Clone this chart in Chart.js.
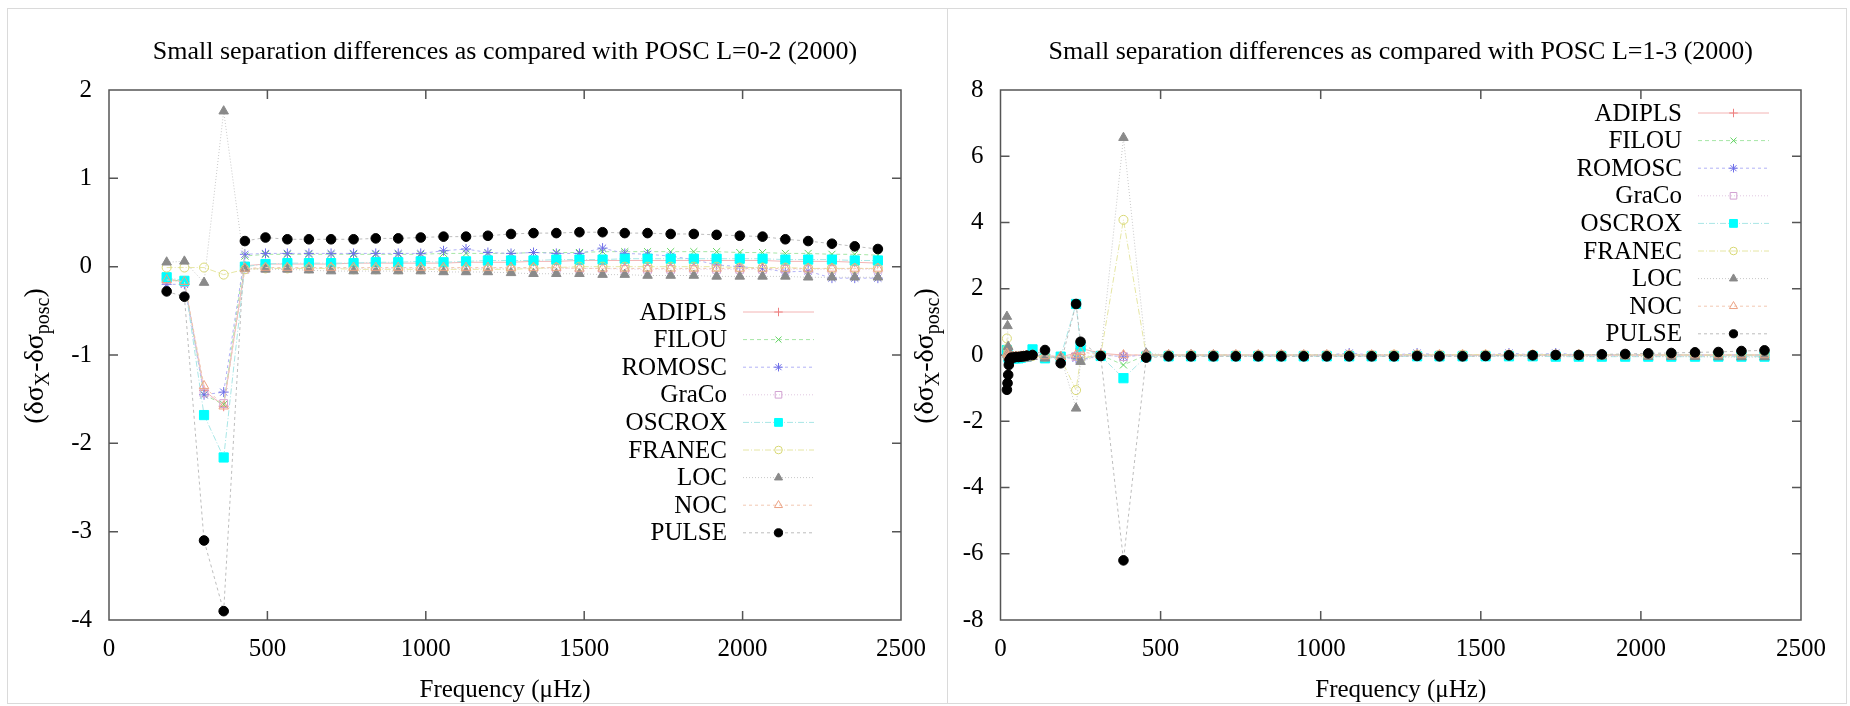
<!DOCTYPE html>
<html>
<head>
<meta charset="utf-8">
<title>Small separation differences</title>
<script src="https://cdn.jsdelivr.net/npm/chart.js@4.4.1/dist/chart.umd.min.js"></script>
<style>
  html, body { margin: 0; padding: 0; background: #fff; }
  #page { position: relative; width: 1850px; height: 706px; overflow: hidden; }
  .edge { position: absolute; background: #dadada; }
  #leftBox { position: absolute; left: 0; top: 0; }
  #rightBox { position: absolute; left: 880px; top: 0; }
</style>
</head>
<body>
<div id="page">
  <div class="edge" style="left:7px;top:8px;width:1839px;height:1px"></div>
  <div class="edge" style="left:7px;top:703px;width:1839px;height:1px"></div>
  <div class="edge" style="left:7px;top:8px;width:1px;height:696px"></div>
  <div class="edge" style="left:1846px;top:8px;width:1px;height:696px"></div>
  <div class="edge" style="left:947px;top:8px;width:1px;height:696px"></div>
  <div id="leftBox"><canvas id="leftChart" width="925" height="706"></canvas></div>
  <div id="rightBox"><canvas id="rightChart" width="970" height="706"></canvas></div>
</div>
<script>
// ---- data ----
const seriesNames = ["ADIPLS", "FILOU", "ROMOSC", "GraCo", "OSCROX", "FRANEC", "LOC", "NOC", "PULSE"];

const xTicks = [0, 500, 1000, 1500, 2000, 2500];
const leftYTicks = [-4, -3, -2, -1, 0, 1, 2];
const rightYTicks = [-8, -6, -4, -2, 0, 2, 4, 6, 8];

// L=0-2 panel
const leftFreq = [182, 238, 300, 362, 429, 494, 563, 631, 701, 772, 842, 913, 984, 1056, 1127, 1196, 1269,
  1340, 1412, 1485, 1558, 1628, 1700, 1773, 1846, 1918, 1991, 2063, 2135, 2207, 2282, 2354, 2427];
const leftADIPLS = [-0.14, -0.17, -1.40, -1.58, 0.01, 0.03, 0.03, 0.03, 0.03, 0.04, 0.04, 0.04, 0.04, 0.04, 0.05, 0.05, 0.05,
  0.06, 0.06, 0.07, 0.07, 0.07, 0.07, 0.07, 0.07, 0.07, 0.07, 0.07, 0.06, 0.06, 0.06, 0.05, 0.04];
const leftFILOU = [-0.14, -0.17, -1.45, -1.56, 0.12, 0.14, 0.14, 0.14, 0.14, 0.14, 0.14, 0.14, 0.14, 0.15, 0.15, 0.15, 0.15,
  0.16, 0.16, 0.16, 0.17, 0.17, 0.17, 0.17, 0.17, 0.17, 0.16, 0.16, 0.15, 0.15, 0.14, 0.14, 0.13];
const leftROMOSC = [-0.20, -0.20, -1.45, -1.42, 0.14, 0.15, 0.15, 0.15, 0.15, 0.15, 0.15, 0.15, 0.15, 0.18, 0.20, 0.16, 0.15,
  0.16, 0.15, 0.15, 0.21, 0.15, 0.14, 0.12, 0.08, 0.02, 0.00, -0.02, -0.06, -0.05, -0.13, -0.13, -0.13];
const leftGraCo = [-0.15, -0.18, -1.43, -1.55, -0.03, -0.02, -0.02, -0.02, -0.02, -0.02, -0.02, -0.02, -0.02, -0.02, -0.02, -0.02, -0.02,
  -0.02, -0.02, -0.02, -0.02, -0.03, -0.03, -0.03, -0.03, -0.03, -0.03, -0.03, -0.03, -0.03, -0.03, -0.03, -0.03];
const leftOSCROX = [-0.12, -0.16, -1.68, -2.16, 0.00, 0.03, 0.04, 0.04, 0.04, 0.04, 0.05, 0.05, 0.06, 0.05, 0.06, 0.07, 0.07,
  0.07, 0.08, 0.08, 0.08, 0.09, 0.09, 0.09, 0.09, 0.09, 0.09, 0.09, 0.08, 0.08, 0.08, 0.07, 0.07];
const leftFRANEC = [-0.01, -0.01, -0.01, -0.09, -0.03, -0.02, -0.02, -0.02, -0.02, -0.03, -0.03, -0.03, -0.03, -0.03, -0.03, -0.03, -0.03,
  -0.02, -0.01, 0.00, 0.00, 0.00, 0.00, 0.00, 0.00, 0.00, -0.01, -0.01, -0.01, -0.02, -0.02, -0.02, -0.02];
const leftLOC = [0.05, 0.06, -0.18, 1.76, -0.02, -0.03, -0.03, -0.04, -0.05, -0.05, -0.05, -0.05, -0.05, -0.06, -0.06, -0.06, -0.07,
  -0.08, -0.08, -0.08, -0.09, -0.09, -0.10, -0.10, -0.10, -0.11, -0.11, -0.11, -0.11, -0.12, -0.12, -0.12, -0.12];
const leftNOC = [-0.15, -0.17, -1.35, -1.58, -0.02, -0.01, -0.01, -0.01, -0.01, -0.01, -0.01, -0.01, -0.01, -0.01, -0.01, -0.01, -0.01,
  -0.01, -0.01, -0.02, -0.02, -0.02, -0.02, -0.02, -0.02, -0.02, -0.02, -0.02, -0.02, -0.02, -0.02, -0.02, -0.02];
const leftPULSE = [-0.28, -0.34, -3.10, -3.90, 0.29, 0.33, 0.31, 0.31, 0.31, 0.31, 0.32, 0.32, 0.33, 0.34, 0.34, 0.35, 0.37,
  0.38, 0.38, 0.39, 0.39, 0.38, 0.38, 0.37, 0.37, 0.36, 0.35, 0.34, 0.31, 0.29, 0.26, 0.23, 0.20];

// L=1-3 panel
const rightFreq = [20, 22, 24, 26, 28, 33, 40, 48, 56, 64, 72, 82, 100, 139, 188, 236, 250, 313, 384, 455,
  525, 595, 665, 735, 805, 877, 947, 1019, 1089, 1159, 1229, 1301, 1371, 1443, 1515, 1588, 1662, 1734,
  1806, 1878, 1951, 2023, 2095, 2169, 2242, 2314, 2386];
const rightADIPLS = [0.05, 0.00, -0.05, -0.08, -0.08, -0.06, -0.06, -0.05, -0.05, -0.04, -0.03, -0.02, 0.00, -0.02, -0.05, 0.05, 0.20, 0.05, 0.00, 0.00,
  0.00, 0.00, 0.00, 0.00, 0.00, 0.00, 0.00, 0.00, 0.00, 0.00, 0.00, 0.00, 0.00, 0.00, 0.00, 0.00, 0.00, 0.00,
  0.00, 0.00, 0.00, 0.00, 0.00, 0.00, 0.00, 0.00, 0.00];
const rightFILOU = [0.05, 0.00, -0.05, -0.08, -0.08, -0.06, -0.06, -0.06, -0.05, -0.04, -0.03, -0.02, 0.00, -0.05, -0.08, -0.05, -0.10, 0.00, -0.30, 0.00,
  0.00, 0.00, 0.00, 0.00, 0.00, 0.00, 0.01, 0.01, 0.01, 0.01, 0.01, 0.01, 0.01, 0.01, 0.01, 0.01, 0.01, 0.01,
  0.01, 0.01, 0.01, 0.01, 0.01, 0.00, 0.00, 0.00, 0.00];
const rightROMOSC = [0.10, 0.00, -0.05, -0.10, -0.10, -0.08, -0.08, -0.08, -0.06, -0.05, -0.04, -0.03, 0.00, -0.05, -0.08, -0.10, -0.15, 0.00, -0.05, 0.00,
  0.00, 0.00, 0.00, 0.00, 0.00, 0.00, 0.00, 0.00, 0.06, 0.00, 0.00, 0.06, 0.00, 0.00, 0.00, 0.06, 0.00, 0.06,
  0.00, 0.00, 0.00, 0.00, 0.00, 0.00, 0.00, 0.00, 0.00];
const rightGraCo = [0.05, 0.00, -0.05, -0.08, -0.08, -0.06, -0.06, -0.05, -0.05, -0.04, -0.03, -0.02, 0.00, -0.03, -0.05, -0.05, -0.05, 0.00, -0.05, 0.00,
  0.00, 0.00, 0.00, 0.00, 0.00, 0.00, 0.00, 0.00, 0.00, 0.00, 0.00, 0.00, 0.00, 0.00, 0.00, 0.00, 0.00, 0.00,
  0.00, 0.00, 0.00, 0.00, 0.00, 0.00, 0.00, 0.00, 0.00];
const rightOSCROX = [0.15, 0.05, -0.05, -0.10, -0.12, -0.10, -0.10, -0.10, -0.10, -0.08, -0.06, -0.04, 0.17, -0.10, -0.05, 1.54, 0.25, -0.03, -0.70, -0.05,
  -0.04, -0.04, -0.04, -0.04, -0.04, -0.04, -0.04, -0.04, -0.04, -0.04, -0.04, -0.04, -0.04, -0.04, -0.04, -0.04, -0.04, -0.05,
  -0.05, -0.05, -0.05, -0.05, -0.05, -0.05, -0.05, -0.05, -0.05];
const rightFRANEC = [0.50, 0.20, 0.05, 0.00, -0.05, -0.05, -0.05, -0.05, -0.05, -0.05, -0.05, -0.04, -0.03, -0.05, -0.10, -1.06, -0.10, 0.00, 4.08, 0.00,
  0.00, 0.00, 0.00, 0.00, 0.00, 0.00, 0.00, 0.00, 0.00, 0.00, 0.01, 0.01, 0.01, 0.01, 0.01, 0.01, 0.01, 0.01,
  0.01, 0.01, 0.00, 0.00, 0.00, 0.00, 0.00, 0.00, 0.00];
const rightLOC = [1.16, 0.88, 0.25, 0.10, 0.00, -0.02, -0.05, -0.05, -0.08, -0.08, -0.10, -0.10, -0.05, -0.10, -0.05, -1.61, -0.20, 0.00, 6.56, 0.05,
  0.00, 0.00, 0.00, -0.01, -0.01, -0.01, -0.01, -0.01, -0.01, -0.02, -0.02, -0.02, -0.02, -0.02, -0.03, -0.03, -0.03, -0.03,
  -0.04, -0.04, -0.04, -0.05, -0.05, -0.05, -0.06, -0.06, -0.06];
const rightNOC = [0.05, 0.00, -0.05, -0.08, -0.08, -0.06, -0.06, -0.05, -0.05, -0.04, -0.03, -0.02, 0.00, -0.03, -0.05, 0.00, 0.10, 0.00, 0.00, 0.00,
  0.00, 0.00, 0.00, 0.00, 0.00, 0.00, 0.00, 0.00, 0.00, 0.00, 0.00, 0.00, 0.00, 0.00, 0.00, 0.00, 0.00, 0.00,
  0.00, 0.00, 0.00, 0.00, 0.00, 0.00, 0.00, 0.00, 0.00];
const rightPULSE = [-1.05, -0.85, -0.60, -0.30, -0.15, -0.08, -0.08, -0.06, -0.06, -0.05, -0.04, -0.02, 0.00, 0.15, -0.25, 1.54, 0.40, -0.03, -6.20, -0.08,
  -0.04, -0.04, -0.04, -0.04, -0.04, -0.04, -0.04, -0.04, -0.04, -0.04, -0.04, -0.03, -0.04, -0.04, -0.03, -0.01, -0.01, 0.00,
  0.00, 0.02, 0.03, 0.05, 0.06, 0.08, 0.09, 0.12, 0.14];

// ---- styling ----
const FONT = "'Liberation Serif', 'Times New Roman', serif";

const seriesStyle = {
  ADIPLS: { line: "#f3b4b4", mark: "#ee8080", fill: "rgba(0,0,0,0)", dash: [], point: "cross", r: 5 },
  FILOU:  { line: "#a6e6a6", mark: "#5fd35f", fill: "rgba(0,0,0,0)", dash: [4, 3], point: "crossRot", r: 5 },
  ROMOSC: { line: "#b2b2f6", mark: "#6f6fe8", fill: "rgba(0,0,0,0)", dash: [3, 3], point: "star", r: 5 },
  GraCo:  { line: "#e2c8e2", mark: "#d2a2d2", fill: "rgba(0,0,0,0)", dash: [1, 2], point: "rect", r: 5.5 },
  OSCROX: { line: "#a8e6e6", mark: "#00ffff", fill: "#00ffff", dash: [6, 2, 1, 2], point: "rect", r: 6.5 },
  FRANEC: { line: "#e6e6a4", mark: "#d8d874", fill: "rgba(0,0,0,0)", dash: [6, 2, 1, 2], point: "circle", r: 4.5 },
  LOC:    { line: "#c8c8c8", mark: "#8a8a8a", fill: "#8a8a8a", dash: [1, 2], point: "triangle", r: 5.5 },
  NOC:    { line: "#f2c8b2", mark: "#eba284", fill: "rgba(0,0,0,0)", dash: [3, 3], point: "triangle", r: 5.5 },
  PULSE:  { line: "#bdbdbd", mark: "#000000", fill: "#000000", dash: [3, 3], point: "circle", r: 4.8 }
};

function buildDatasets(freq, valuesByName) {
  return seriesNames.map((name, i) => {
    const st = seriesStyle[name];
    return {
      label: name,
      data: freq.map((f, k) => ({ x: f, y: valuesByName[name][k] })),
      showLine: true,
      borderColor: st.line,
      borderWidth: 1,
      borderDash: st.dash,
      pointStyle: st.point,
      pointRadius: st.r,
      pointBorderColor: st.mark,
      pointBackgroundColor: st.fill,
      pointBorderWidth: 1,
      order: seriesNames.length - i
    };
  });
}

function drawYLabel(ctx, cx, cy) {
  const main = "28px " + FONT, sub = "20px " + FONT;
  const parts = [["(δσ", main, 0], ["X", sub, 6], ["-δσ", main, 0], ["posc", sub, 6], [")", main, 0]];
  ctx.save();
  ctx.translate(cx, cy);
  ctx.rotate(-Math.PI / 2);
  ctx.fillStyle = "#000";
  ctx.textBaseline = "alphabetic";
  ctx.textAlign = "left";
  let total = 0;
  const widths = parts.map(p => { ctx.font = p[1]; const w = ctx.measureText(p[0]).width; total += w; return w; });
  let x = -total / 2;
  parts.forEach((p, i) => { ctx.font = p[1]; ctx.fillText(p[0], x, 8 + p[2]); x += widths[i]; });
  ctx.restore();
}

const panelDeco = {
  id: "panelDeco",
  beforeDatasetsDraw(chart, args, opts) {
    const { ctx, chartArea: a, scales } = chart;
    ctx.save();
    ctx.strokeStyle = "#555";
    ctx.lineWidth = 1.5;
    ctx.strokeRect(a.left, a.top, a.right - a.left, a.bottom - a.top);
    ctx.beginPath();
    scales.x.ticks.forEach(t => {
      const px = scales.x.getPixelForValue(t.value);
      if (px <= a.left + 1 || px >= a.right - 1) return;
      ctx.moveTo(px, a.bottom); ctx.lineTo(px, a.bottom - 9);
      ctx.moveTo(px, a.top); ctx.lineTo(px, a.top + 9);
    });
    scales.y.ticks.forEach(t => {
      const py = scales.y.getPixelForValue(t.value);
      if (py <= a.top + 1 || py >= a.bottom - 1) return;
      ctx.moveTo(a.left, py); ctx.lineTo(a.left + 9, py);
      ctx.moveTo(a.right, py); ctx.lineTo(a.right - 9, py);
    });
    ctx.stroke();
    ctx.restore();
  },
  afterDraw(chart, args, opts) {
    const { ctx, chartArea: a } = chart;
    ctx.save();
    ctx.fillStyle = "#000";
    ctx.font = "26px " + FONT;
    ctx.textAlign = "center";
    ctx.textBaseline = "middle";
    ctx.fillText(opts.title, (a.left + a.right) / 2, 52);
    ctx.restore();

    drawYLabel(ctx, opts.yLabelX, (a.top + a.bottom) / 2 + 1);

    // key
    chart.data.datasets.forEach((ds, i) => {
      const st = seriesStyle[ds.label];
      const y = opts.keyTop + i * opts.keyStep;
      ctx.save();
      ctx.fillStyle = "#000";
      ctx.font = "25px " + FONT;
      ctx.textAlign = "right";
      ctx.textBaseline = "middle";
      ctx.fillText(ds.label, opts.keyTextRight, y + 1);
      ctx.strokeStyle = st.line;
      ctx.lineWidth = 1;
      ctx.setLineDash(st.dash);
      ctx.beginPath();
      ctx.moveTo(opts.keyLineStart, y);
      ctx.lineTo(opts.keyLineEnd, y);
      ctx.stroke();
      ctx.setLineDash([]);
      ctx.strokeStyle = st.mark;
      ctx.fillStyle = st.fill;
      Chart.helpers.drawPoint(ctx, { pointStyle: st.point, rotation: 0, radius: st.r * 0.85, borderWidth: 1 },
        (opts.keyLineStart + opts.keyLineEnd) / 2, y);
      ctx.restore();
    });
  }
};

function makeChart(canvasId, freq, values, yTicks, layout) {
  return new Chart(document.getElementById(canvasId), {
    type: "scatter",
    data: { datasets: buildDatasets(freq, values) },
    options: {
      responsive: false,
      animation: false,
      events: [],
      layout: { padding: { left: 0, right: layout.padRight, top: 90, bottom: 0 } },
      scales: {
        x: {
          type: "linear",
          min: xTicks[0],
          max: xTicks[xTicks.length - 1],
          afterBuildTicks: s => { s.ticks = xTicks.map(v => ({ value: v })); },
          afterFit: s => { s.height = 86; s.paddingLeft = 0; s.paddingRight = 0; },
          grid: { display: false, drawTicks: false },
          border: { display: false },
          ticks: { color: "#000", font: { family: FONT, size: 25 }, padding: 14, maxRotation: 0, callback: v => String(v) },
          title: { display: true, text: "Frequency (μHz)", color: "#000", font: { family: FONT, size: 25 }, padding: { top: 0, bottom: 1 } }
        },
        y: {
          type: "linear",
          min: yTicks[0],
          max: yTicks[yTicks.length - 1],
          afterBuildTicks: s => { s.ticks = yTicks.map(v => ({ value: v })); },
          afterFit: s => { s.width = layout.yWidth; s.paddingTop = 0; s.paddingBottom = 0; },
          grid: { display: false, drawTicks: false },
          border: { display: false },
          ticks: { color: "#000", font: { family: FONT, size: 25 }, padding: 17, callback: v => String(v) }
        }
      },
      plugins: {
        legend: { display: false },
        tooltip: { enabled: false },
        title: { display: false },
        panelDeco: layout.deco
      }
    },
    plugins: [panelDeco]
  });
}

makeChart("leftChart", leftFreq, {
  ADIPLS: leftADIPLS, FILOU: leftFILOU, ROMOSC: leftROMOSC, GraCo: leftGraCo, OSCROX: leftOSCROX,
  FRANEC: leftFRANEC, LOC: leftLOC, NOC: leftNOC, PULSE: leftPULSE
}, leftYTicks, {
  padRight: 24, yWidth: 109,
  deco: {
    title: "Small separation differences as compared with POSC L=0-2 (2000)",
    yLabelX: 35, keyTop: 312, keyStep: 27.6, keyTextRight: 727, keyLineStart: 743, keyLineEnd: 814
  }
});

makeChart("rightChart", rightFreq, {
  ADIPLS: rightADIPLS, FILOU: rightFILOU, ROMOSC: rightROMOSC, GraCo: rightGraCo, OSCROX: rightOSCROX,
  FRANEC: rightFRANEC, LOC: rightLOC, NOC: rightNOC, PULSE: rightPULSE
}, rightYTicks, {
  padRight: 49, yWidth: 120.5,
  deco: {
    title: "Small separation differences as compared with POSC L=1-3 (2000)",
    yLabelX: 45, keyTop: 113, keyStep: 27.6, keyTextRight: 802, keyLineStart: 818, keyLineEnd: 889
  }
});
</script>
</body>
</html>
